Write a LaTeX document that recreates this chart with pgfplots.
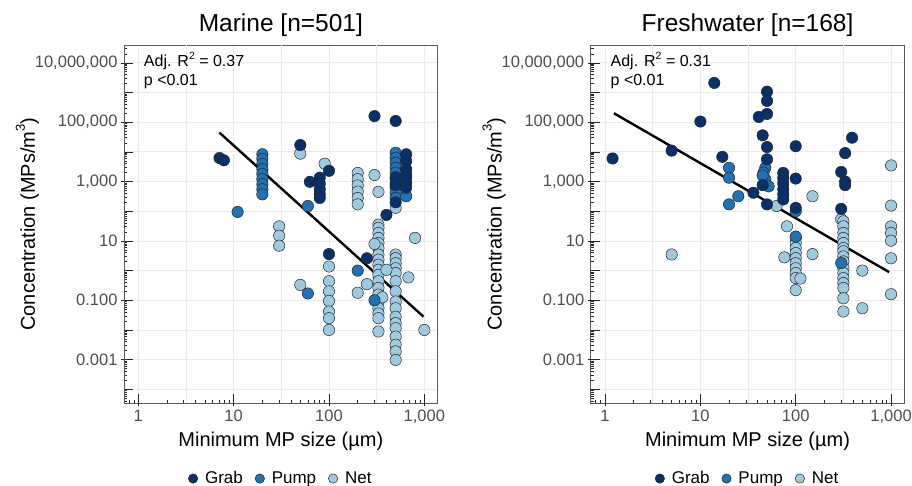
\documentclass[border=0pt]{standalone}
\usepackage{fontspec}
\setmainfont{Liberation Sans}
\usepackage{pgfplots}
\pgfplotsset{compat=1.18}
\definecolor{grab}{HTML}{08306B}
\definecolor{pump}{HTML}{2171B5}
\definecolor{net}{HTML}{9ECAE1}
\definecolor{gridc}{HTML}{EBEBEB}
\definecolor{tickc}{HTML}{4D4D4D}
\definecolor{framec}{HTML}{5A5A5A}

\pgfplotsset{
  mpPts/.style={only marks, mark=*, mark size=5.7pt,
    mark options={draw=black!85, line width=0.5pt, fill=#1}},
  mpFit/.style={black, line width=2.4pt, no marks},
  mpYminor/.style={minor ytick={4e-5,5e-5,6e-5,7e-5,8e-5,9e-5,
      2e-4,3e-4,4e-4,5e-4,6e-4,7e-4,8e-4,9e-4,
      2e-3,3e-3,4e-3,5e-3,6e-3,7e-3,8e-3,9e-3,
      2e-2,3e-2,4e-2,5e-2,6e-2,7e-2,8e-2,9e-2,
      0.2,0.3,0.4,0.5,0.6,0.7,0.8,0.9,
      2,3,4,5,6,7,8,9,20,30,40,50,60,70,80,90,
      200,300,400,500,600,700,800,900,
      2e3,3e3,4e3,5e3,6e3,7e3,8e3,9e3,
      2e4,3e4,4e4,5e4,6e4,7e4,8e4,9e4,
      2e5,3e5,4e5,5e5,6e5,7e5,8e5,9e5,
      2e6,3e6,4e6,5e6,6e6,7e6,8e6,9e6,2e7,3e7}},
}
\newcommand\legdot[1]{\addlegendimage{legend image code/.code={%
  \filldraw[fill=#1, draw=black!85, line width=0.5pt] (4.7pt,0pt) circle (4.7pt);}}}
\newcommand\halfgrid{%
  \draw[gridc, line width=0.8pt] (axis cs:3.1623,3.39e-5) -- (axis cs:3.1623,3.98e7);
  \draw[gridc, line width=0.8pt] (axis cs:31.623,3.39e-5) -- (axis cs:31.623,3.98e7);
  \draw[gridc, line width=0.8pt] (axis cs:316.23,3.39e-5) -- (axis cs:316.23,3.98e7);}

\begin{document}
\begin{tikzpicture}
\path[use as bounding box] (0,0) rectangle (912pt,-486pt);

% ---------------- Marine ----------------
\begin{axis}[
    at={(124pt,-403.3pt)}, anchor=south west,
    scale only axis, width=313.7pt, height=358.3pt,
    xmode=log, ymode=log,
    xmin=0.708, xmax=1380, ymin=3.39e-5, ymax=3.98e7,
    axis line style={framec, line width=0.8pt},
    tick pos=left,
    xtick={1,10,100,1000}, xticklabels={},
    ytick={1e-4,1e-3,1e-2,1e-1,1,10,100,1e3,1e4,1e5,1e6,1e7}, yticklabels={},
    minor xtick={0.8,0.9,2,3,4,5,6,7,8,9,20,30,40,50,60,70,80,90,200,300,400,500,600,700,800,900},
    mpYminor,
    tick align=inside, major tick length=9.5pt, minor tick length=3.3pt,
    tick style={black!85, line width=0.6pt},
    grid=major, major grid style={gridc, line width=0.8pt},
    extra x ticks={1,10,100,1000}, extra x tick labels={1,10,100,{1,000}},
    extra y ticks={1e-3,1e-1,10,1e3,1e5,1e7},
    extra y tick labels={0.001,0.100,10,{1,000},{100,000},{10,000,000}},
    extra x tick style={tick align=outside, major tick length=3pt, grid=none},
    extra y tick style={tick align=outside, major tick length=3pt, grid=none},
    tick label style={font=\fontsize{16.5}{18}\selectfont, text=tickc},
    title style={at={(0.5,1.022)}, anchor=base, font=\fontsize{24.5}{28}\selectfont},
    xlabel style={at={(0.5,-0.12)}, anchor=base, font=\fontsize{20}{24}\selectfont},
    ylabel style={at={(-0.284,0.5)}, anchor=base, font=\fontsize{20}{24}\selectfont},
    title={Marine [n=501]},
    xlabel={Minimum MP size (µm)},
    ylabel={Concentration (MPs/m\raisebox{0.5em}{\fontsize{13}{13}\selectfont 3})},
    legend columns=3,
    legend style={at={(0.5,-0.21)}, anchor=center, draw=none, fill=none,
      font=\fontsize{17}{18}\selectfont,
      /tikz/every odd column/.append style={column sep=5pt},
      /tikz/every even column/.append style={column sep=10pt}},
  ]
\legdot{grab}\addlegendentry{Grab}
\legdot{pump}\addlegendentry{Pump}
\legdot{net}\addlegendentry{Net}
\halfgrid
\addplot[mpPts=net, forget plot] coordinates {
  (50,8.7e3) (90,4.0e3)
  (200,1.95e3) (200,1.2e3) (200,7.4e2) (200,4.6e2) (200,2.8e2) (200,1.7e2)
  (300,1.66e3) (330,4.5e2) (500,1.3e2)
  (30,31) (30,15) (30,6.9)
  (330,35.5) (330,27.5) (330,18.6) (330,12.6) (330,8.5) (330,5.75) (330,3.47)
  (330,2.34) (330,1.58) (330,1.07) (330,0.72) (330,0.44) (330,0.26) (330,0.155)
  (330,0.091) (330,0.054) (330,0.036) (330,0.025) (330,0.0089)
  (300,7.9) (800,12.6)
  (100,1.38) (100,0.44) (100,0.20) (100,0.095) (100,0.042) (100,0.025) (100,0.010)
  (50,0.33) (200,0.18) (250,0.35)
  (500,3.47) (500,2.63) (500,1.78) (500,1.2) (500,0.83) (500,0.44) (500,0.20)
  (500,0.091) (500,0.054) (500,0.028) (500,0.017) (500,0.0115) (500,0.006)
  (500,0.0032) (500,0.0019) (500,0.00098)
  (680,0.59) (1000,0.010) (400,1.07) (363,0.126)
};
\addplot[mpPts=pump, forget plot] coordinates {
  (20,8.3e3) (20,5.8e3) (20,3.9e3) (20,2.6e3) (20,1.8e3) (20,1.2e3) (20,8.1e2)
  (20,5.5e2) (20,3.7e2)
  (11,95) (60,1.5e2)
  (500,9.3e3) (500,6.3e3) (500,4.3e3) (500,2.9e3) (500,2.0e3) (500,1.26e3)
  (500,8.9e2) (500,6.3e2) (500,4.2e2) (500,2.8e2)
  (645,3.2e2) (200,1.0) (60,0.17) (300,0.10)
};
\addplot[mpPts=grab, forget plot] coordinates {
  (7.1,6.2e3) (7.9,5.2e3) (50,1.7e4) (100,2.3e3) (63,9.8e2)
  (80,1.35e3) (80,8.5e2) (80,5.5e2) (80,3.7e2) (80,2.8e2)
  (300,1.6e5) (500,1.1e5)
  (645,8.3e3) (645,4.9e3) (645,2.6e3) (645,1.7e3) (645,1.35e3) (645,9.1e2) (645,6.2e2)
  (500,1.4e3) (500,7.6e2) (500,2.0e2)
  (400,75) (100,3.6) (250,2.6)
};
\addplot[mpFit, forget plot] coordinates {(7.08,4.47e4) (980,0.028)};
\node[anchor=base west, inner sep=0pt, font=\fontsize{16}{18}\selectfont]
  at (axis description cs:0.063,0.940)
  {Adj. R\raisebox{0.42em}{\fontsize{10.5}{10.5}\selectfont 2} = 0.37};
\node[anchor=base west, inner sep=0pt, font=\fontsize{16}{18}\selectfont]
  at (axis description cs:0.063,0.886) {p <0.01};
\end{axis}

% ---------------- Freshwater ----------------
\begin{axis}[
    at={(590.7pt,-403.3pt)}, anchor=south west,
    scale only axis, width=313.7pt, height=358.3pt,
    xmode=log, ymode=log,
    xmin=0.708, xmax=1380, ymin=3.39e-5, ymax=3.98e7,
    axis line style={framec, line width=0.8pt},
    tick pos=left,
    xtick={1,10,100,1000}, xticklabels={},
    ytick={1e-4,1e-3,1e-2,1e-1,1,10,100,1e3,1e4,1e5,1e6,1e7}, yticklabels={},
    minor xtick={0.8,0.9,2,3,4,5,6,7,8,9,20,30,40,50,60,70,80,90,200,300,400,500,600,700,800,900},
    mpYminor,
    tick align=inside, major tick length=9.5pt, minor tick length=3.3pt,
    tick style={black!85, line width=0.6pt},
    grid=major, major grid style={gridc, line width=0.8pt},
    extra x ticks={1,10,100,1000}, extra x tick labels={1,10,100,{1,000}},
    extra y ticks={1e-3,1e-1,10,1e3,1e5,1e7},
    extra y tick labels={0.001,0.100,10,{1,000},{100,000},{10,000,000}},
    extra x tick style={tick align=outside, major tick length=3pt, grid=none},
    extra y tick style={tick align=outside, major tick length=3pt, grid=none},
    tick label style={font=\fontsize{16.5}{18}\selectfont, text=tickc},
    title style={at={(0.5,1.022)}, anchor=base, font=\fontsize{24.5}{28}\selectfont},
    xlabel style={at={(0.5,-0.12)}, anchor=base, font=\fontsize{20}{24}\selectfont},
    ylabel style={at={(-0.284,0.5)}, anchor=base, font=\fontsize{20}{24}\selectfont},
    title={Freshwater [n=168]},
    xlabel={Minimum MP size (µm)},
    ylabel={Concentration (MPs/m\raisebox{0.5em}{\fontsize{13}{13}\selectfont 3})},
    legend columns=3,
    legend style={at={(0.5,-0.21)}, anchor=center, draw=none, fill=none,
      font=\fontsize{17}{18}\selectfont,
      /tikz/every odd column/.append style={column sep=5pt},
      /tikz/every even column/.append style={column sep=10pt}},
  ]
\legdot{grab}\addlegendentry{Grab}
\legdot{pump}\addlegendentry{Pump}
\legdot{net}\addlegendentry{Net}
\halfgrid
\addplot[mpPts=net, forget plot] coordinates {
  (63,1.5e2) (150,3.2e2) (300,54) (1000,3.5e3) (1000,1.55e2) (5,3.5) (81,31) (76,2.8)
  (100,12.6) (100,8.5) (100,5.75) (100,3.9) (100,2.63) (100,1.78) (100,1.2)
  (100,0.83) (100,0.56) (100,0.22)
  (112,0.54) (150,3.6)
  (316,45.7) (316,31) (316,18.6) (316,12.6) (316,8.5) (316,5.75) (316,4.47)
  (316,3.0) (316,2.04) (316,1.2) (316,0.83) (316,0.56) (316,0.38) (316,0.26)
  (316,0.117) (316,0.042)
  (500,1.0) (500,0.054)
  (1000,31) (1000,18.6) (1000,10.2) (1000,2.6) (1000,0.16)
};
\addplot[mpPts=pump, forget plot] coordinates {
  (20,2.9e3) (20,1.35e3) (20,1.7e2) (25,3.2e2) (48,2.9e3) (46,2.0e3) (48,1.2e3)
  (52,6.9e2) (45,1.6e3) (100,1.0e2) (100,14) (300,1.8)
};
\addplot[mpPts=grab, forget plot] coordinates {
  (1.2,6.0e3) (5,1.1e4) (10,1.05e5) (14,2.1e6) (17,6.8e3) (36,4.2e2) (41,1.5e5)
  (50,1.07e6) (50,5.2e5) (50,1.9e5) (50,1.45e4) (50,5.6e3) (45,3.6e4) (45,7.6e2)
  (50,1.7e2)
  (74,1.95e3) (74,1.3e3) (74,8.7e2) (74,5.6e2) (74,3.7e2) (74,2.5e2)
  (100,1.55e4) (100,1.26e3) (100,1.3e2) (300,2.1e3) (330,9.1e3) (390,3.0e4)
  (330,1.0e3) (330,7.6e2) (300,1.2e2)
};
\addplot[mpFit, forget plot] coordinates {(1.24,2.0e5) (955,0.89)};
\node[anchor=base west, inner sep=0pt, font=\fontsize{16}{18}\selectfont]
  at (axis description cs:0.063,0.940)
  {Adj. R\raisebox{0.42em}{\fontsize{10.5}{10.5}\selectfont 2} = 0.31};
\node[anchor=base west, inner sep=0pt, font=\fontsize{16}{18}\selectfont]
  at (axis description cs:0.063,0.886) {p <0.01};
\end{axis}
\end{tikzpicture}
\end{document}
